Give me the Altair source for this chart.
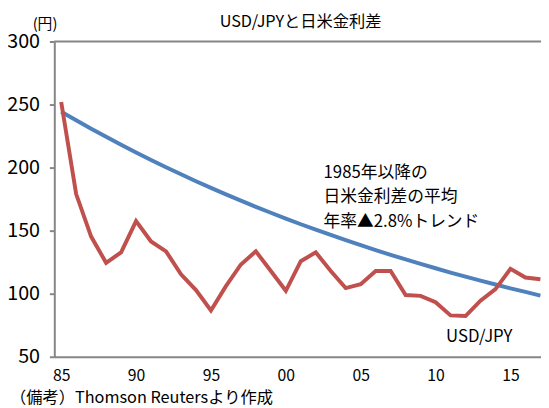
import altair as alt
import pandas as pd

# ---- data ----
years = list(range(1985, 2018))
usdjpy = [252, 179, 145.3, 124.5, 132.8, 157.6, 141.4, 133.6, 115.4, 102.9,
          86.7, 106, 123.2, 133.6, 118, 102.3, 125.8, 132.8, 118, 104.5,
          107.6, 118, 118, 99, 98.3, 93.3, 82.8, 82.3, 94.5, 103.7,
          119.8, 112.8, 111.5]
trend = [244.3, 237.5, 230.8, 224.4, 218.1, 212.0, 206.0, 200.3, 194.7, 189.2,
         183.9, 178.8, 173.8, 168.9, 164.2, 159.6, 155.1, 150.8, 146.6, 142.5,
         138.5, 134.6, 130.8, 127.2, 123.6, 120.2, 116.8, 113.5, 110.4, 107.3,
         104.3, 101.4, 98.5]
x_ticks = [1985, 1990, 1995, 2000, 2005, 2010, 2015]
y_ticks = [50, 100, 150, 200, 250, 300]

title_text = "USD/JPYと日米金利差"
unit_text = "(円)"
note_text = "（備考）Thomson Reutersより作成"
annot_lines = ["1985年以降の", "日米金利差の平均", "年率▲2.8%トレンド"]
series_label = "USD/JPY"

RED = "#C0504D"
BLUE = "#4F81BD"
GRAY = "#868686"
FONT = "Noto Sans CJK JP"

W, H = 494, 320

df = pd.DataFrame({"year": years, "usdjpy": usdjpy, "trend": trend})

xscale = alt.Scale(domain=[1984.54, 2017.04], nice=False, zero=False)
yscale = alt.Scale(domain=[50, 300], nice=False, zero=False)

xaxis = alt.Axis(values=x_ticks, labelExpr="substring(toString(datum.value), 2)",
                 ticks=False, tickSize=0, labelPadding=11, labelFont=FONT,
                 labelFontSize=16, labelColor="black", domainColor=GRAY,
                 domainWidth=2, grid=False, title=None, labelFlush=False)
yaxis = alt.Axis(values=y_ticks, tickSize=5, tickColor=GRAY, tickWidth=2,
                 labelPadding=10, labelFont=FONT, labelFontSize=20,
                 labelColor="black", domainColor=GRAY, domainWidth=2,
                 grid=False, title=None)

base = alt.Chart(df)

trend_line = base.mark_line(color=BLUE, strokeWidth=4).encode(
    x=alt.X("year:Q", scale=xscale, axis=xaxis),
    y=alt.Y("trend:Q", scale=yscale, axis=yaxis),
)
fx_line = base.mark_line(color=RED, strokeWidth=4).encode(
    x=alt.X("year:Q", scale=xscale),
    y=alt.Y("usdjpy:Q", scale=yscale),
)

top_border = alt.Chart(pd.DataFrame({"v": [300]})).mark_rule(
    color=GRAY, strokeWidth=2).encode(y=alt.Y("v:Q", scale=yscale))

annot = alt.Chart(pd.DataFrame({"a": [0]})).mark_text(
    text=annot_lines, align="left", baseline="middle", lineHeight=25,
    font=FONT, fontSize=17, color="black").encode(
    x=alt.datum(2002.52), y=alt.datum(195.9))

label = alt.Chart(pd.DataFrame({"a": [0]})).mark_text(
    text=series_label, align="left", baseline="middle",
    font=FONT, fontSize=17, color="black").encode(
    x=alt.datum(2010.7), y=alt.datum(65.4))

title = alt.Chart(pd.DataFrame({"a": [0]})).mark_text(
    text=title_text, align="center", baseline="middle",
    font=FONT, fontSize=16.5, color="black").encode(
    x=alt.value(250), y=alt.value(-19.5))

unit = alt.Chart(pd.DataFrame({"a": [0]})).mark_text(
    text=unit_text, align="left", baseline="middle",
    font=FONT, fontSize=15, color="black").encode(
    x=alt.value(-22), y=alt.value(-18))

note = alt.Chart(pd.DataFrame({"a": [0]})).mark_text(
    text=note_text, align="left", baseline="middle",
    font=FONT, fontSize=16.5, color="black").encode(
    x=alt.value(-45), y=alt.value(361.5))

chart = alt.layer(top_border, trend_line, fx_line, annot, label, title, unit, note).properties(
    width=W, height=H,
    autosize=alt.AutoSizeParams(type="none"),
    padding={"left": 47, "top": 31, "right": 0, "bottom": 49},
    background="white",
).configure_view(stroke=None)

chart.save("out.html", embed_options={"renderer": "svg", "actions": False})
